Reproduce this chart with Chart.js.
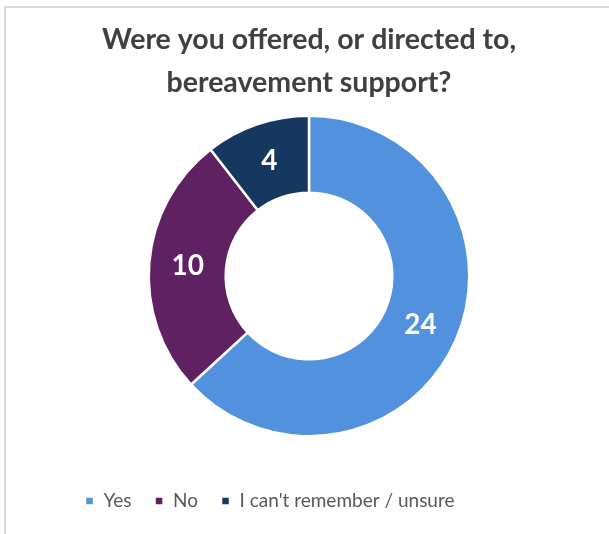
<!DOCTYPE html>
<html>
<head>
<meta charset="utf-8">
<script src="https://cdn.jsdelivr.net/npm/chart.js@4/dist/chart.umd.min.js"></script>
<style>
  html, body { margin: 0; padding: 0; background: #ffffff; overflow: hidden; }
  #wrap { position: relative; width: 609px; height: 534px; }
  #frame { position: absolute; left: 4px; top: 6px; right: -10px; bottom: -10px;
           border-left: 2px solid #d9d9d9; border-top: 2px solid #d9d9d9; pointer-events: none; }
  canvas { position: absolute; left: 0; top: 0; }
</style>
</head>
<body>
<div id="wrap">
  <canvas id="chart" width="609" height="534"></canvas>
  <div id="frame"></div>
</div>
<script>
const titleLines = ['Were you offered, or directed to,', 'bereavement support?'];
const categories = ['Yes', 'No', "I can't remember / unsure"];
const counts = [24, 10, 4];
const sliceColours = ['#5291DD', '#5F2161', '#16375F'];

// Writes each slice's count in white at the middle of its ring segment
const sliceValueLabels = {
  id: 'sliceValueLabels',
  afterDatasetsDraw(chart) {
    const ctx = chart.ctx;
    const meta = chart.getDatasetMeta(0);
    ctx.save();
    ctx.font = 'bold 28px Lato';
    ctx.fillStyle = '#ffffff';
    ctx.textAlign = 'center';
    ctx.textBaseline = 'middle';
    meta.data.forEach((arc, i) => {
      const p = arc.tooltipPosition();
      ctx.fillText(String(chart.data.datasets[0].data[i]), p.x, p.y);
    });
    ctx.restore();
  }
};

new Chart(document.getElementById('chart'), {
  type: 'doughnut',
  data: {
    labels: categories,
    datasets: [{
      data: counts,
      backgroundColor: sliceColours,
      borderColor: '#ffffff',
      borderWidth: 2.5,
      hoverOffset: 0
    }]
  },
  options: {
    responsive: false,
    animation: false,
    cutout: '52%',
    layout: { padding: { top: 0, left: 62, right: 53, bottom: 13.5 } },
    plugins: {
      title: {
        display: true,
        text: titleLines,
        color: '#404040',
        font: { family: 'Lato', size: 28.5, weight: 'bold', lineHeight: 43 / 28.5 },
        padding: { top: 18.5, bottom: 10 }
      },
      legend: {
        display: true,
        position: 'bottom',
        align: 'start',
        title: { display: true, text: '', font: { size: 31, lineHeight: 1 }, padding: 0 },
        labels: {
          boxWidth: 9,
          boxHeight: 9,
          padding: 23,
          color: '#595959',
          font: { family: 'Lato', size: 19 }
        }
      },
      tooltip: { enabled: false }
    }
  },
  plugins: [sliceValueLabels]
});
</script>
</body>
</html>
